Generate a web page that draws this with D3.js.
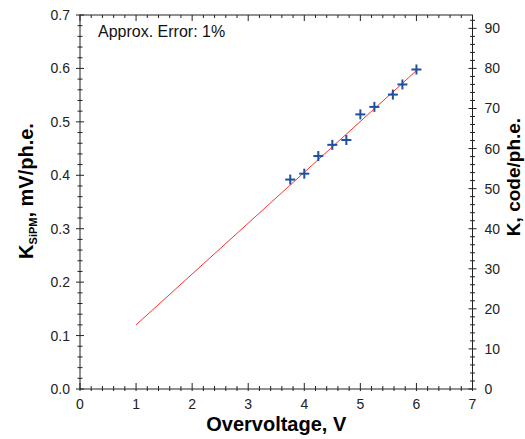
<!DOCTYPE html>
<html>
<head>
<meta charset="utf-8">
<script src="https://cdn.jsdelivr.net/npm/d3@7"></script>
<style>
  body { margin: 0; background: #fff; }
  text { font-family: Arial, "Liberation Sans", Helvetica, sans-serif; }
</style>
</head>
<body>
<svg id="chart"></svg>
<script>
// measured points: overvoltage (V) vs K (mV/ph.e.)
const overvoltage = [3.75, 4.0, 4.25, 4.5, 4.75, 5.0, 5.25, 5.58, 5.75, 6.0];
const kSipm = [0.392, 0.403, 0.436, 0.457, 0.466, 0.514, 0.528, 0.551, 0.570, 0.598];
// linear fit endpoints
const fitX = [1, 6];
const fitY = [0.120, 0.596];
const xTicks = [0, 1, 2, 3, 4, 5, 6, 7];
const yTicks = [0.0, 0.1, 0.2, 0.3, 0.4, 0.5, 0.6, 0.7];
const codeTicks = [0, 10, 20, 30, 40, 50, 60, 70, 80, 90];
const codePerMv = 133.33;

const width = 525, height = 439;
const margin = {left: 80, right: 52.5, top: 15, bottom: 50};

const svg = d3.select("#chart").attr("width", width).attr("height", height);

const x = d3.scaleLinear().domain([0, 7]).range([margin.left, width - margin.right]);
const y = d3.scaleLinear().domain([0, 0.7]).range([height - margin.bottom, margin.top]);
const y2 = d3.scaleLinear().domain([0, 0.7 * codePerMv]).range([height - margin.bottom, margin.top]);

const axisColor = "#222";
const labelColor = "#222";

// frame
svg.append("rect")
    .attr("x", x(0)).attr("y", y(0.7))
    .attr("width", x(7) - x(0)).attr("height", y(0) - y(0.7))
    .style("fill", "none").style("stroke", axisColor).style("stroke-width", 1);

const g = svg.append("g").style("stroke", axisColor).style("stroke-width", 1);

// x ticks (bottom and top, inward)
d3.range(0, 7.0001, 0.2).forEach(function(v) {
  const major = Math.abs(v - Math.round(v)) < 1e-6;
  const len = major ? 6 : 3;
  g.append("line").attr("x1", x(v)).attr("x2", x(v))
      .attr("y1", y(0) + 2).attr("y2", y(0) - len);
  g.append("line").attr("x1", x(v)).attr("x2", x(v))
      .attr("y1", y(0.7)).attr("y2", y(0.7) + len);
});

// left y ticks (crossing)
d3.range(0, 0.70001, 0.02).forEach(function(v) {
  const major = Math.abs(v * 10 - Math.round(v * 10)) < 1e-6;
  const len = major ? 4 : 2.5;
  g.append("line").attr("x1", x(0) - len).attr("x2", x(0) + len)
      .attr("y1", y(v)).attr("y2", y(v));
});

// right y ticks (crossing)
d3.range(0, 93, 2).forEach(function(v) {
  const major = v % 10 === 0;
  const len = major ? 4 : 2.5;
  g.append("line").attr("x1", x(7) - len).attr("x2", x(7) + len)
      .attr("y1", y2(v)).attr("y2", y2(v));
});

// tick labels
svg.selectAll(".xl").data(xTicks).enter().append("text")
    .attr("x", d => x(d)).attr("y", y(0) + 20)
    .attr("text-anchor", "middle")
    .style("font-size", "14px").style("fill", labelColor)
    .text(d => d);

svg.selectAll(".yl").data(yTicks).enter().append("text")
    .attr("x", x(0) - 10).attr("y", d => y(d) + 5)
    .attr("text-anchor", "end")
    .style("font-size", "14px").style("fill", labelColor)
    .text(d => d3.format(".1f")(d));

svg.selectAll(".y2l").data(codeTicks).enter().append("text")
    .attr("x", x(7) + 12).attr("y", d => y2(d) + 5)
    .attr("text-anchor", "start")
    .style("font-size", "14px").style("fill", labelColor)
    .text(d => d);

// axis titles
svg.append("text")
    .attr("x", (x(0) + x(7)) / 2).attr("y", 431)
    .attr("text-anchor", "middle")
    .style("font-size", "20px").style("font-weight", "bold")
    .text("Overvoltage, V");

const lt = svg.append("text")
    .attr("transform", "translate(33,191) rotate(-90)")
    .attr("text-anchor", "middle")
    .style("font-size", "20px").style("font-weight", "bold");
lt.append("tspan").text("K");
lt.append("tspan").attr("dy", 4).style("font-size", "11px").text("SiPM");
lt.append("tspan").attr("dy", -4).text(", mV/ph.e.");

svg.append("text")
    .attr("transform", "translate(520,177) rotate(-90)")
    .attr("text-anchor", "middle")
    .style("font-size", "19px").style("font-weight", "bold")
    .text("K, code/ph.e.");

// annotation
svg.append("text")
    .attr("x", x(0) + 18).attr("y", 37)
    .style("font-size", "16px").style("fill", "#111")
    .text("Approx. Error: 1%");

// fit line
svg.append("line")
    .attr("x1", x(fitX[0])).attr("y1", y(fitY[0]))
    .attr("x2", x(fitX[1])).attr("y2", y(fitY[1]))
    .style("stroke", "#ff3030").style("stroke-width", 1);

// markers
const pts = overvoltage.map((v, i) => ({x: v, y: kSipm[i]}));
const m = svg.append("g").style("stroke", "#1f4fa0").style("stroke-width", 2);
pts.forEach(function(p) {
  m.append("line").attr("x1", x(p.x) - 5).attr("x2", x(p.x) + 5)
      .attr("y1", y(p.y)).attr("y2", y(p.y));
  m.append("line").attr("x1", x(p.x)).attr("x2", x(p.x))
      .attr("y1", y(p.y) - 5).attr("y2", y(p.y) + 5);
});
</script>
</body>
</html>
